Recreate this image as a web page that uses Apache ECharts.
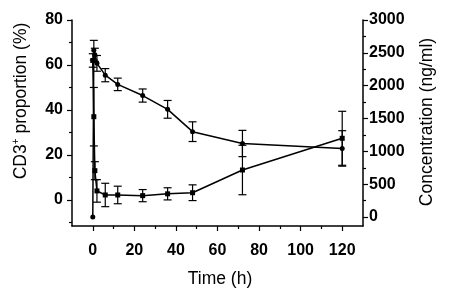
<!DOCTYPE html>
<html>
<head>
<meta charset="utf-8">
<script src="https://cdn.jsdelivr.net/npm/echarts@6/dist/echarts.min.js"></script>
<style>html,body{margin:0;background:#fff}#chart{width:450px;height:299px}</style>
</head>
<body>
<div id="chart"></div>
<script>
var time = [0, 0.5, 1, 2, 6, 12, 24, 36, 48, 72, 120];
var cd3Mean = [62, 37, 13, 4, 2.2, 2.2, 1.9, 2.7, 3.2, 13.3, 27.4];
var cd3Err = [3, 13, 4, 5, 5.2, 3.9, 2.7, 2.7, 3.5, 11, 12];
var concMean = [0, 2540, 2470, 2340, 2160, 2020, 1850, 1640, 1300, 1120, 1045];
var concErr = [0, 150, 100, 120, 100, 95, 100, 135, 150, 200, 270];

var xTicks = [0, 20, 40, 60, 80, 100, 120];
var xMinor = [10, 30, 50, 70, 90, 110];
var leftTicks = [0, 20, 40, 60, 80];
var leftMinor = [-10, 10, 30, 50, 70];
var rightTicks = [0, 500, 1000, 1500, 2000, 2500, 3000];
var rightMinor = [250, 750, 1250, 1750, 2250, 2750];

var font = 'Liberation Sans, Arial, sans-serif';
var lineSt = { color: '#000', width: 1.5 };

var chart = echarts.init(document.getElementById('chart'));

function pairs(mean) {
    return time.map(function (t, i) { return [t, mean[i]]; });
}

function errorBars(mean, err, yIdx) {
    var d = [];
    time.forEach(function (t, i) {
        if (err[i] > 0) d.push([t, mean[i] - err[i], mean[i] + err[i]]);
    });
    return {
        type: 'custom',
        xAxisIndex: 0,
        yAxisIndex: yIdx,
        data: d,
        encode: { x: 0, y: [1, 2] },
        silent: true,
        z: 3,
        renderItem: function (params, api) {
            var lo = api.coord([api.value(0), api.value(1)]);
            var hi = api.coord([api.value(0), api.value(2)]);
            var w = 4;
            var st = { stroke: '#000', lineWidth: 1.2 };
            return {
                type: 'group',
                children: [
                    { type: 'line', shape: { x1: lo[0], y1: lo[1], x2: hi[0], y2: hi[1] }, style: st },
                    { type: 'line', shape: { x1: lo[0] - w, y1: lo[1], x2: lo[0] + w, y2: lo[1] }, style: st },
                    { type: 'line', shape: { x1: hi[0] - w, y1: hi[1], x2: hi[0] + w, y2: hi[1] }, style: st }
                ]
            };
        }
    };
}

function minorAxis(min, max, vals, pos) {
    return {
        type: 'value', min: min, max: max, position: pos,
        axisLine: { show: false, onZero: false },
        axisTick: { show: true, length: 3, customValues: vals, lineStyle: { color: '#000', width: 1.2 } },
        axisLabel: { show: false },
        splitLine: { show: false }
    };
}

var labelSt = { color: '#000', fontFamily: font, fontWeight: 'bold', fontSize: 16 };
var plain = function (v) { return String(v); };

option = {
    animation: false,
    grid: { left: 72, right: 87, top: 20, bottom: 73 },
    xAxis: [
        {
            type: 'value', min: -10, max: 130, position: 'bottom',
            axisLine: { show: true, onZero: false, lineStyle: lineSt },
            axisTick: { length: 5, customValues: xTicks, lineStyle: { color: '#000', width: 1.2 } },
            axisLabel: Object.assign({ customValues: xTicks, margin: 17, formatter: plain }, labelSt),
            splitLine: { show: false }
        },
        minorAxis(-10, 130, xMinor, 'bottom')
    ],
    yAxis: [
        {
            type: 'value', min: -11.6, max: 80, position: 'left',
            axisLine: { show: true, onZero: false, lineStyle: lineSt },
            axisTick: { show: true, length: 5, customValues: leftTicks, lineStyle: { color: '#000', width: 1.2 } },
            axisLabel: Object.assign({ customValues: leftTicks, margin: 9, formatter: plain }, labelSt),
            splitLine: { show: false }
        },
        {
            type: 'value', min: -136, max: 3000, position: 'right',
            axisLine: { show: true, onZero: false, lineStyle: lineSt },
            axisTick: { show: true, length: 5, customValues: rightTicks, lineStyle: { color: '#000', width: 1.2 } },
            axisLabel: Object.assign({ customValues: rightTicks, margin: 6, formatter: plain }, labelSt),
            splitLine: { show: false }
        },
        minorAxis(-11.6, 80, leftMinor, 'left'),
        minorAxis(-136, 3000, rightMinor, 'right')
    ],
    graphic: [
        {
            type: 'text', x: 21, y: 101, rotation: Math.PI / 2,
            style: {
                text: 'CD3{sup|+} proportion (%)',
                fill: '#000', font: '17.5px ' + font,
                align: 'center', verticalAlign: 'middle',
                rich: { sup: { fontSize: 10, fontFamily: font, padding: [0, 0, 9, 0] } }
            }
        },
        {
            type: 'text', x: 427, y: 122, rotation: Math.PI / 2,
            style: {
                text: 'Concentration (ng/ml)',
                fill: '#000', font: '17.5px ' + font,
                align: 'center', verticalAlign: 'middle'
            }
        },
        {
            type: 'text', x: 220, y: 279,
            style: {
                text: 'Time (h)',
                fill: '#000', font: '17.5px ' + font,
                align: 'center', verticalAlign: 'middle'
            }
        }
    ],
    series: [
        {
            name: 'CD3+ proportion', type: 'line', xAxisIndex: 0, yAxisIndex: 0,
            data: pairs(cd3Mean),
            symbol: 'rect', symbolSize: 5,
            lineStyle: { color: '#000', width: 1.5 },
            itemStyle: { color: '#000' },
            z: 4
        },
        {
            name: 'Concentration', type: 'line', xAxisIndex: 0, yAxisIndex: 1,
            data: pairs(concMean),
            symbol: 'circle', symbolSize: 5,
            lineStyle: { color: '#000', width: 1.5 },
            itemStyle: { color: '#000' },
            z: 4
        },
        errorBars(cd3Mean, cd3Err, 0),
        errorBars(concMean, concErr, 1)
    ]
};
chart.setOption(option);
</script>
</body>
</html>
